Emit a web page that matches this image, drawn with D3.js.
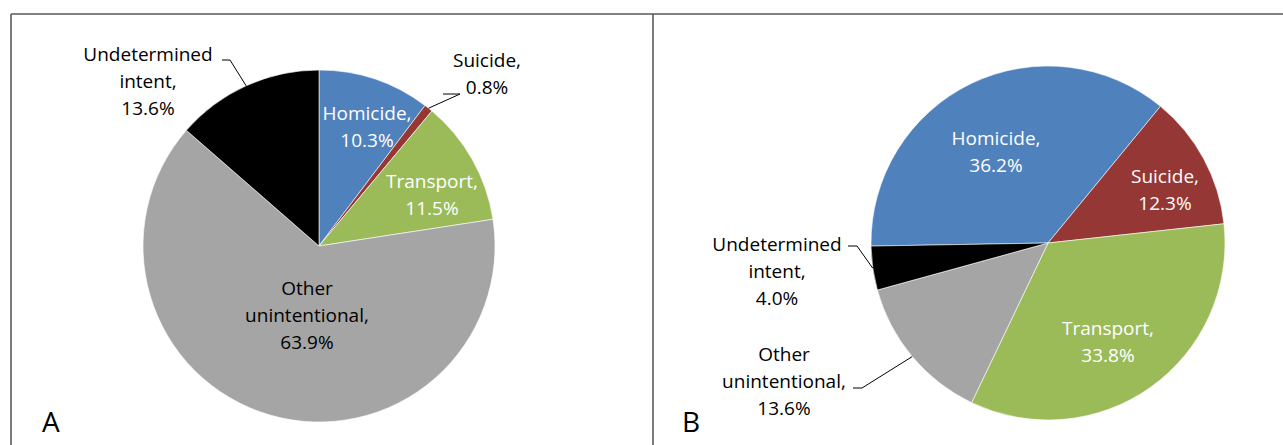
<!DOCTYPE html>
<html>
<head>
<meta charset="utf-8">
<script src="https://cdn.jsdelivr.net/npm/d3@7"></script>
<style>
  html, body { margin: 0; padding: 0; background: #fff; }
  svg { display: block; }
  text { font-family: "Open Sans", "Noto Sans", sans-serif; }
</style>
</head>
<body>
<svg id="chart" width="1283" height="445"></svg>
<script>
// ---- data ----
const categories = ["Homicide", "Suicide", "Transport", "Other unintentional", "Undetermined intent"];
const valuesA = [10.3, 0.8, 11.5, 63.9, 13.6];
const valuesB = [36.2, 12.3, 33.8, 13.6, 4.0];
const labelLinesA = [["Homicide,", "10.3%"], ["Suicide,", "0.8%"], ["Transport,", "11.5%"], ["Other", "unintentional,", "63.9%"], ["Undetermined", "intent,", "13.6%"]];
const labelLinesB = [["Homicide,", "36.2%"], ["Suicide,", "12.3%"], ["Transport,", "33.8%"], ["Other", "unintentional,", "13.6%"], ["Undetermined", "intent,", "4.0%"]];
const panelNames = ["A", "B"];
const colors = ["#4F81BD", "#943735", "#9BBB59", "#A5A5A5", "#000000"];

// ---- layout ----
const svg = d3.select("#chart");
const color = d3.scaleOrdinal().domain(categories).range(colors);
const lineH = 27;

// label layout: first-line baseline position relative to pie centre, fill, leader
const panels = [
  {
    name: panelNames[0], values: valuesA, lines: labelLinesA,
    cx: 319, cy: 246, r: 176, start: 0, letterX: 42,
    labels: [
      { dx: 48, dy: -126, fill: "#fff" },
      { dx: 168, dy: -179, fill: "#000", leader: { x: 124, y: -152 }, leaderEnd: { x: 141, y: -152 } },
      { dx: 113, dy: -58, fill: "#fff" },
      { dx: -12, dy: 49, fill: "#000" },
      { dx: -171, dy: -185, fill: "#000", leader: { x: -97, y: -186 }, leaderEnd: { x: -89, y: -186 } }
    ]
  },
  {
    name: panelNames[1], values: valuesB, lines: labelLinesB,
    cx: 1048, cy: 243, r: 177, start: -91 * Math.PI / 180, letterX: 682,
    labels: [
      { dx: -52, dy: -98, fill: "#fff" },
      { dx: 117, dy: -60, fill: "#fff" },
      { dx: 60, dy: 92, fill: "#fff" },
      { dx: -264, dy: 118, fill: "#000", leader: { x: -195, y: 145 }, leaderEnd: { x: -186, y: 145 } },
      { dx: -271, dy: 8, fill: "#000", leader: { x: -200, y: 3 }, leaderEnd: { x: -191, y: 3 } }
    ]
  }
];

// panel borders
const border = svg.append("g").attr("stroke", "#595959").attr("stroke-width", 1.6).attr("fill", "none");
border.append("line").attr("x1", 11).attr("x2", 1283).attr("y1", 14).attr("y2", 14);
border.append("line").attr("x1", 11).attr("x2", 11).attr("y1", 14).attr("y2", 445);
border.append("line").attr("x1", 653).attr("x2", 653).attr("y1", 14).attr("y2", 445);

panels.forEach(p => {
  const pie = d3.pie().sort(null).value(d => d).startAngle(p.start).endAngle(p.start + 2 * Math.PI);
  const arcs = pie(p.values);
  const arc = d3.arc().innerRadius(0).outerRadius(p.r);
  const g = svg.append("g").attr("transform", `translate(${p.cx},${p.cy})`);

  g.selectAll("path.slice").data(arcs).join("path")
    .attr("class", "slice")
    .attr("d", arc)
    .attr("fill", (d, i) => color(categories[i]))
    .attr("stroke", "#fff")
    .attr("stroke-width", 0.6);

  // leader lines: horizontal tick then to slice mid-angle on outer edge
  arcs.forEach((d, i) => {
    const L = p.labels[i];
    if (!L.leader) return;
    const mid = (d.startAngle + d.endAngle) / 2;
    const ex = Math.sin(mid) * p.r, ey = -Math.cos(mid) * p.r;
    g.append("polyline")
      .attr("points", `${L.leader.x},${L.leader.y} ${L.leaderEnd.x},${L.leaderEnd.y} ${ex},${ey}`)
      .attr("fill", "none").attr("stroke", "#000").attr("stroke-width", 1);
  });

  // labels
  arcs.forEach((d, i) => {
    const L = p.labels[i];
    const t = g.append("text")
      .attr("text-anchor", "middle")
      .attr("font-size", 19)
      .attr("fill", L.fill);
    p.lines[i].forEach((ln, j) => {
      t.append("tspan").attr("x", L.dx).attr("y", L.dy + j * lineH).text(ln);
    });
  });

  svg.append("text")
    .attr("x", p.letterX).attr("y", 432)
    .attr("font-size", 28)
    .attr("fill", "#000")
    .text(p.name);
});
</script>
</body>
</html>
